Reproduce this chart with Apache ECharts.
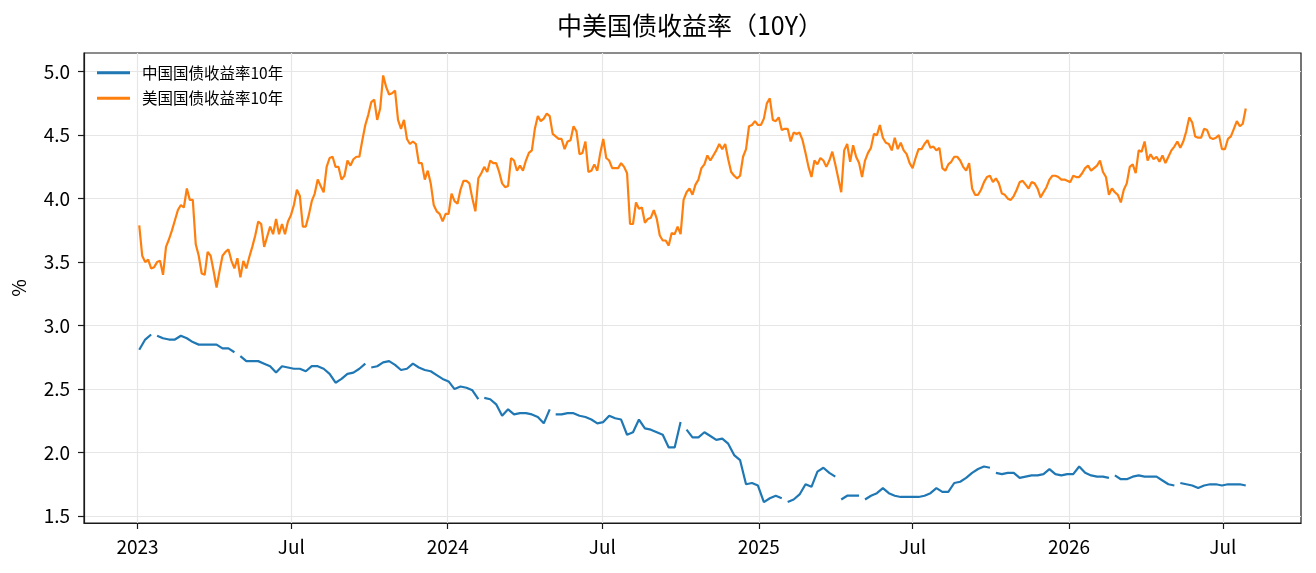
<!DOCTYPE html>
<html>
<head>
<meta charset="utf-8">
<script src="https://cdn.jsdelivr.net/npm/echarts@6/dist/echarts.min.js"></script>
<style>
  html, body { margin: 0; padding: 0; background: #fff; }
  #chart { width: 1316px; height: 573px; }
</style>
</head>
<body>
<div id="chart"></div>
<script>
const myChart = echarts.init(document.getElementById('chart'));

// readings start 2023-01-03; China weekly, US twice a week
const firstDay = '2023-01-03';
const cnStepDays = 7;
const usStepDays = 3.5;
const seriesNames = ['中国国债收益率10年', '美国国债收益率10年'];

const cnYield = [
  2.81, 2.89, 2.93, 2.92, 2.90, 2.89, 2.89, 2.92, 2.90, 2.87,
  2.85, 2.85, 2.85, 2.85, 2.82, 2.82, 2.79, 2.76, 2.72, 2.72,
  2.72, 2.70, 2.68, 2.63, 2.68, 2.67, 2.66, 2.66, 2.64, 2.68,
  2.68, 2.66, 2.62, 2.55, 2.58, 2.62, 2.63, 2.66, 2.70, 2.67,
  2.68, 2.71, 2.72, 2.69, 2.65, 2.66, 2.70, 2.67, 2.65, 2.64,
  2.61, 2.58, 2.56, 2.50, 2.52, 2.51, 2.49, 2.42, 2.43, 2.42,
  2.38, 2.29, 2.34, 2.30, 2.31, 2.31, 2.30, 2.28, 2.23, 2.34,
  2.30, 2.30, 2.31, 2.31, 2.29, 2.28, 2.26, 2.23, 2.24, 2.29,
  2.27, 2.26, 2.14, 2.16, 2.26, 2.19, 2.18, 2.16, 2.14, 2.04,
  2.04, 2.24, 2.18, 2.12, 2.12, 2.16, 2.13, 2.10, 2.11, 2.07,
  1.98, 1.94, 1.75, 1.76, 1.74, 1.61, 1.64, 1.66, 1.64, 1.61,
  1.63, 1.67, 1.75, 1.73, 1.85, 1.88, 1.84, 1.81, 1.63, 1.66,
  1.66, 1.66, 1.63, 1.66, 1.68, 1.72, 1.68, 1.66, 1.65, 1.65,
  1.65, 1.65, 1.66, 1.68, 1.72, 1.69, 1.69, 1.76, 1.77, 1.80,
  1.84, 1.87, 1.89, 1.88, 1.84, 1.83, 1.84, 1.84, 1.80, 1.81,
  1.82, 1.82, 1.83, 1.87, 1.83, 1.82, 1.83, 1.83, 1.89, 1.84,
  1.82, 1.81, 1.81, 1.80, 1.82, 1.79, 1.79, 1.81, 1.82, 1.81,
  1.81, 1.81, 1.78, 1.75, 1.74, 1.76, 1.75, 1.74, 1.72, 1.74,
  1.75, 1.75, 1.74, 1.75, 1.75, 1.75, 1.74
];

const usYield = [
  3.79, 3.55, 3.50, 3.52, 3.45, 3.46, 3.50, 3.51, 3.40, 3.62,
  3.68, 3.75, 3.83, 3.91, 3.95, 3.93, 4.08, 3.99, 3.99, 3.64,
  3.55, 3.41, 3.40, 3.58, 3.55, 3.43, 3.30, 3.43, 3.55, 3.58,
  3.60, 3.51, 3.45, 3.53, 3.38, 3.51, 3.45, 3.54, 3.62, 3.71,
  3.82, 3.80, 3.62, 3.70, 3.78, 3.72, 3.84, 3.72, 3.80, 3.72,
  3.82, 3.87, 3.95, 4.07, 4.02, 3.78, 3.78, 3.87, 3.98, 4.04,
  4.15, 4.10, 4.05, 4.25, 4.32, 4.33, 4.25, 4.25, 4.15, 4.18,
  4.30, 4.26, 4.31, 4.33, 4.33, 4.46, 4.58, 4.66, 4.76, 4.78,
  4.62, 4.71, 4.97, 4.88, 4.82, 4.83, 4.85, 4.62, 4.55, 4.62,
  4.47, 4.43, 4.45, 4.43, 4.28, 4.28, 4.15, 4.22, 4.12, 3.95,
  3.90, 3.88, 3.82, 3.88, 3.88, 4.04, 3.98, 3.96, 4.07, 4.14,
  4.14, 4.12, 4.00, 3.90, 4.16, 4.20, 4.25, 4.21, 4.30, 4.28,
  4.28, 4.21, 4.12, 4.09, 4.10, 4.32, 4.30, 4.22, 4.26, 4.22,
  4.30, 4.36, 4.38, 4.55, 4.65, 4.61, 4.63, 4.67, 4.65, 4.51,
  4.49, 4.47, 4.47, 4.39, 4.45, 4.46, 4.57, 4.53, 4.35, 4.36,
  4.45, 4.21, 4.22, 4.27, 4.22, 4.36, 4.47, 4.32, 4.30, 4.24,
  4.24, 4.24, 4.28, 4.25, 4.20, 3.80, 3.80, 3.97, 3.92, 3.93,
  3.81, 3.84, 3.85, 3.91, 3.84, 3.71, 3.67, 3.67, 3.63, 3.73,
  3.72, 3.78, 3.72, 3.99, 4.05, 4.08, 4.03, 4.11, 4.15, 4.24,
  4.27, 4.34, 4.30, 4.34, 4.38, 4.43, 4.39, 4.43, 4.31, 4.21,
  4.18, 4.16, 4.18, 4.33, 4.39, 4.57, 4.58, 4.61, 4.58, 4.58,
  4.63, 4.75, 4.79, 4.62, 4.61, 4.64, 4.54, 4.55, 4.55, 4.45,
  4.52, 4.51, 4.52, 4.46, 4.36, 4.25, 4.17, 4.30, 4.27, 4.32,
  4.30, 4.25, 4.30, 4.37, 4.27, 4.16, 4.05, 4.38, 4.43, 4.29,
  4.42, 4.33, 4.28, 4.17, 4.30, 4.36, 4.40, 4.51, 4.50, 4.58,
  4.48, 4.44, 4.43, 4.38, 4.48, 4.39, 4.44, 4.38, 4.35, 4.28,
  4.24, 4.32, 4.39, 4.39, 4.43, 4.46, 4.40, 4.41, 4.38, 4.40,
  4.24, 4.22, 4.27, 4.29, 4.33, 4.33, 4.30, 4.25, 4.22, 4.28,
  4.08, 4.03, 4.03, 4.07, 4.13, 4.17, 4.18, 4.13, 4.16, 4.12,
  4.04, 4.03, 4.00, 3.99, 4.02, 4.07, 4.13, 4.14, 4.11, 4.08,
  4.13, 4.12, 4.08, 4.01, 4.05, 4.09, 4.15, 4.18, 4.18, 4.17,
  4.15, 4.15, 4.14, 4.13, 4.18, 4.17, 4.17, 4.20, 4.24, 4.26,
  4.22, 4.24, 4.26, 4.30, 4.21, 4.17, 4.03, 4.08, 4.05, 4.03,
  3.97, 4.07, 4.12, 4.25, 4.27, 4.20, 4.38, 4.37, 4.45, 4.30,
  4.35, 4.31, 4.33, 4.29, 4.34, 4.28, 4.33, 4.38, 4.41, 4.45,
  4.40, 4.45, 4.53, 4.64, 4.60, 4.49, 4.48, 4.48, 4.55, 4.54,
  4.48, 4.47, 4.48, 4.50, 4.39, 4.39, 4.47, 4.49, 4.55, 4.61,
  4.57, 4.59, 4.71
];

// China market holidays: the line breaks after these week indexes
const cnGapsAfter = [2, 16, 38, 57, 69, 91, 108, 117, 121, 143, 163, 174];

const xTicks = ['2023-01-01', '2023-07-01', '2024-01-01', '2024-07-01',
  '2025-01-01', '2025-07-01', '2026-01-01', '2026-07-01'];
const yTicks = [1.5, 2.0, 2.5, 3.0, 3.5, 4.0, 4.5, 5.0];

const DAY = 86400000;
const t0 = new Date(firstDay).getTime();

function buildSeries (values, stepDays, gaps) {
  const out = [];
  values.forEach(function (v, i) {
    const t = t0 + i * stepDays * DAY;
    out.push([t, v]);
    if (gaps.indexOf(i) >= 0) out.push([t + stepDays / 2 * DAY, '-']);
  });
  return out;
}

const font = '"Noto Sans CJK SC", "Noto Sans", sans-serif';
const xTickValues = xTicks.map(function (d) { return new Date(d).getTime(); });

const option = {
  backgroundColor: '#ffffff',
  animation: false,
  textStyle: { fontFamily: font },
  title: {
    text: '中美国债收益率（10Y）',
    left: 685,
    top: 8,
    textAlign: 'center',
    textStyle: { fontFamily: font, fontSize: 25, fontWeight: 'normal', color: '#000' }
  },
  legend: {
    orient: 'vertical',
    left: 92,
    top: 60,
    itemGap: 10,
    itemWidth: 33,
    itemHeight: 3,
    icon: 'rect',
    data: seriesNames,
    textStyle: { fontFamily: font, fontSize: 15.5, color: '#000', padding: [0, 0, 0, 7] }
  },
  grid: {
    show: true,
    left: 84,
    right: 15,
    top: 53,
    bottom: 50,
    borderColor: '#1a1a1a',
    borderWidth: 1.2,
    backgroundColor: '#fff'
  },
  xAxis: {
    type: 'value',
    min: new Date('2022-10-30').getTime(),
    max: new Date('2026-10-01').getTime(),
    axisLine: { show: true, lineStyle: { color: '#1a1a1a', width: 1.2 } },
    axisTick: { show: true, length: 6, lineStyle: { color: '#1a1a1a', width: 1.2 }, customValues: xTickValues },
    axisLabel: {
      customValues: xTickValues,
      margin: 14,
      fontSize: 19,
      color: '#000',
      fontFamily: font,
      formatter: function (v) {
        const d = new Date(v);
        return d.getUTCMonth() === 0 ? String(d.getUTCFullYear()) : 'Jul';
      }
    },
    splitLine: { show: true, lineStyle: { color: '#e6e6e6', width: 1.2 } }
  },
  yAxis: {
    type: 'value',
    min: 1.445,
    max: 5.147,
    name: '%',
    nameLocation: 'middle',
    nameRotate: 90,
    nameGap: 56,
    nameTextStyle: { fontSize: 19, color: '#000', fontFamily: font },
    axisLine: { show: true, lineStyle: { color: '#1a1a1a', width: 1.2 } },
    axisTick: { show: true, length: 6, lineStyle: { color: '#1a1a1a', width: 1.2 }, customValues: yTicks },
    axisLabel: {
      customValues: yTicks,
      margin: 14,
      fontSize: 19,
      color: '#000',
      fontFamily: font,
      formatter: function (v) { return v.toFixed(1); }
    },
    splitLine: { show: true, lineStyle: { color: '#e6e6e6', width: 1.2 } }
  },
  series: [
    {
      name: seriesNames[0],
      type: 'line',
      showSymbol: false,
      connectNulls: false,
      color: '#1f77b4',
      lineStyle: { width: 2.2 },
      data: buildSeries(cnYield, cnStepDays, cnGapsAfter)
    },
    {
      name: seriesNames[1],
      type: 'line',
      showSymbol: false,
      connectNulls: false,
      color: '#ff7f0e',
      lineStyle: { width: 2.2 },
      data: buildSeries(usYield, usStepDays, [])
    }
  ]
};

myChart.setOption(option);
</script>
</body>
</html>
